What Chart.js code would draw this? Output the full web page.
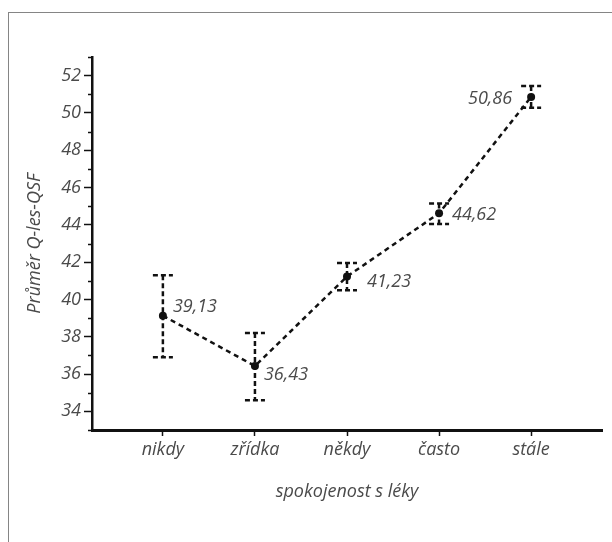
<!DOCTYPE html>
<html>
<head>
<meta charset="utf-8">
<script src="https://cdn.jsdelivr.net/npm/chart.js@4"></script>
<style>
  html, body { margin: 0; padding: 0; background: #fff; overflow: hidden; }
  #wrap { position: relative; width: 612px; height: 542px; }
  #frame { position: absolute; left: 8px; top: 12px; width: 700px; height: 600px;
           border-left: 1.5px solid #858585; border-top: 1.5px solid #858585; }
  canvas { position: absolute; left: 0; top: 0; }
</style>
</head>
<body>
<div id="wrap">
  <div id="frame"></div>
  <canvas id="chart" width="612" height="542"></canvas>
</div>
<script>
// data
const categories = ["nikdy", "zřídka", "někdy", "často", "stále"];
const means = [39.13, 36.43, 41.23, 44.62, 50.86];
const lower = [36.9, 34.6, 40.5, 44.05, 50.28];
const upper = [41.3, 38.2, 41.95, 45.15, 51.44];
const meanLabels = ["39,13", "36,43", "41,23", "44,62", "50,86"];

const ink = "#111";
const textGrey = "#4a4a4a";
const italicFont = { family: "'Open Sans', 'Noto Sans', sans-serif", size: 18, style: "italic", weight: "normal" };

// where each value label sits relative to its point
const labelOffsets = [
    { dx: 10, dy: -9, align: "left" },
    { dx: 9, dy: 9, align: "left" },
    { dx: 20, dy: 5, align: "left" },
    { dx: 13, dy: 2, align: "left" },
    { dx: -19, dy: 2, align: "right" }
];

// dashed error bars with dashed caps
const errorBars = {
    id: "errorBars",
    afterDatasetsDraw(chart) {
        const { ctx, scales: { x, y } } = chart;
        ctx.save();
        ctx.strokeStyle = ink;
        ctx.lineWidth = 2.5;
        ctx.setLineDash([5, 3]);
        categories.forEach((c, i) => {
            const px = x.getPixelForValue(i + 1);
            const top = y.getPixelForValue(upper[i]);
            const bot = y.getPixelForValue(lower[i]);
            ctx.beginPath();
            ctx.moveTo(px, top);
            ctx.lineTo(px, bot);
            ctx.stroke();
            [top, bot].forEach(py => {
                ctx.beginPath();
                ctx.moveTo(px - 10, py);
                ctx.lineTo(px + 10, py);
                ctx.stroke();
            });
        });
        ctx.restore();
    }
};

// value labels next to the points
const valueLabels = {
    id: "valueLabels",
    afterDatasetsDraw(chart) {
        const { ctx } = chart;
        const meta = chart.getDatasetMeta(0);
        ctx.save();
        ctx.fillStyle = textGrey;
        ctx.font = "italic 18px 'Open Sans', 'Noto Sans', sans-serif";
        ctx.textBaseline = "middle";
        meta.data.forEach((pt, i) => {
            const o = labelOffsets[i];
            ctx.textAlign = o.align;
            ctx.fillText(meanLabels[i], pt.x + o.dx, pt.y + o.dy);
        });
        ctx.restore();
    }
};

// short minor ticks on the y axis
const minorTicks = {
    id: "minorTicks",
    afterDraw(chart) {
        const { ctx, scales: { y } } = chart;
        ctx.save();
        ctx.strokeStyle = ink;
        ctx.lineWidth = 1.5;
        y.ticks.forEach(t => {
            if (t.value % 2 !== 0) {
                const py = Math.round(y.getPixelForValue(t.value)) + 0.5;
                ctx.beginPath();
                ctx.moveTo(y.right - 4, py);
                ctx.lineTo(y.right, py);
                ctx.stroke();
            }
        });
        ctx.restore();
    }
};

new Chart(document.getElementById("chart"), {
    type: "line",
    data: {
        datasets: [{
            data: means.map((v, i) => ({ x: i + 1, y: v })),
            borderColor: ink,
            borderWidth: 2.5,
            borderDash: [5, 4],
            pointRadius: 4,
            pointBackgroundColor: ink,
            pointBorderColor: ink,
            pointBorderWidth: 0,
            tension: 0
        }]
    },
    options: {
        responsive: false,
        animation: false,
        layout: { padding: { top: 57, right: 10, left: 0, bottom: 0 } },
        plugins: {
            legend: { display: false },
            tooltip: { enabled: false }
        },
        scales: {
            x: {
                type: "linear",
                min: 0.23,
                max: 5.77,
                afterBuildTicks: scale => {
                    scale.ticks = categories.map((c, i) => ({ value: i + 1 }));
                },
                afterFit: scale => { scale.height = 112; },
                border: { display: true, color: ink, width: 3 },
                grid: { drawOnChartArea: false, drawTicks: true, tickLength: 6, tickColor: ink, tickWidth: 1.5 },
                ticks: {
                    autoSkip: false,
                    maxRotation: 0,
                    padding: 3,
                    color: textGrey,
                    font: italicFont,
                    callback: v => categories[v - 1]
                },
                title: {
                    display: true,
                    text: "spokojenost s léky",
                    color: textGrey,
                    font: italicFont,
                    padding: { top: 0, bottom: 39 }
                }
            },
            y: {
                min: 33,
                max: 53,
                afterFit: scale => { scale.width = 92; },
                border: { display: true, color: ink, width: 2.5 },
                grid: {
                    drawOnChartArea: false,
                    drawTicks: true,
                    tickLength: 8,
                    tickWidth: 1.5,
                    tickColor: c => (c.tick && c.tick.value % 2 === 0) ? ink : "rgba(0,0,0,0)"
                },
                ticks: {
                    stepSize: 1,
                    autoSkip: false,
                    padding: 3,
                    color: textGrey,
                    font: italicFont,
                    callback: v => (v % 2 === 0 ? String(v) : "")
                },
                title: {
                    display: true,
                    text: "Průměr Q-les-QSF",
                    color: textGrey,
                    font: italicFont,
                    padding: { top: 24, bottom: 0 }
                }
            }
        }
    },
    plugins: [errorBars, valueLabels, minorTicks]
});
</script>
</body>
</html>
